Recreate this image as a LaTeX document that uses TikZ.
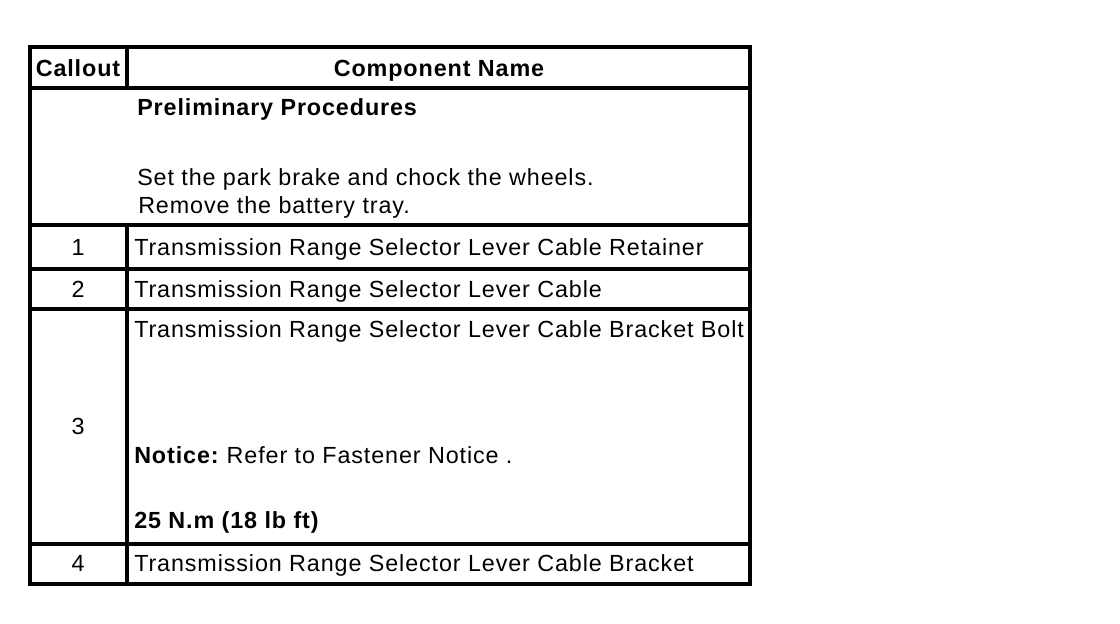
\documentclass[tikz,border=0pt]{standalone}
\usepackage{fontspec}
\setmainfont{Liberation Sans}[LetterSpace=3.8]
\begin{document}
\begin{tikzpicture}[x=0.75pt,y=-0.75pt,
  rule/.style={line width=3pt,black},
  txt/.style={inner sep=0pt,anchor=base west,font=\fontsize{17.5}{19}\selectfont},
  btxt/.style={inner sep=0pt,anchor=base west,font=\fontsize{17.5}{19}\selectfont\bfseries},
  num/.style={inner sep=0pt,anchor=base,font=\fontsize{17.5}{19}\selectfont},
  hdr/.style={inner sep=0pt,anchor=base,font=\fontsize{17.5}{19}\selectfont\bfseries}]
\useasboundingbox (0,0) rectangle (1120,624);
\fill[white] (0,0) rectangle (1120,624);
% table rules
\draw[rule] (30,47.5) rectangle (749.5,583.5);
\draw[rule] (30,88) -- (749.5,88);
\draw[rule] (30,225) -- (749.5,225);
\draw[rule] (30,268.7) -- (749.5,268.7);
\draw[rule] (30,308.5) -- (749.5,308.5);
\draw[rule] (30,544) -- (749.5,544);
\draw[rule] (126.5,47.5) -- (126.5,88);
\draw[rule] (126.5,225) -- (126.5,583.5);
% header
\node[hdr] (hcall) at (78,76.5) {Callout};
\node[hdr] (hname) at (439,76.5) {Component Name};
% preliminary
\node[btxt] (prelim) at (137,116) {Preliminary Procedures};
\node[txt] (set) at (137,185.5) {Set the park brake and chock the wheels.};
\node[txt] (rem) at (138,213.5) {Remove the battery tray.};
% rows
\node[num] (n1) at (78,255) {1};
\node[txt] (t1) at (134,255) {Transmission Range Selector Lever Cable Retainer};
\node[num] (n2) at (78,297) {2};
\node[txt] (t2) at (134,297) {Transmission Range Selector Lever Cable};
\node[num] (n3) at (78,434) {3};
\node[txt] (t3) at (134,337.5) {Transmission Range Selector Lever Cable Bracket Bolt};
\node[txt] (t3n) at (134,463) {\textbf{Notice:}\hspace{-2pt} Refer to Fastener Notice .};
\node[btxt] (t3t) at (134,528) {25 N.m (18 lb ft)};
\node[num] (n4) at (78,571) {4};
\node[txt] (t4) at (134,571) {Transmission Range Selector Lever Cable Bracket};
\end{tikzpicture}
\end{document}
